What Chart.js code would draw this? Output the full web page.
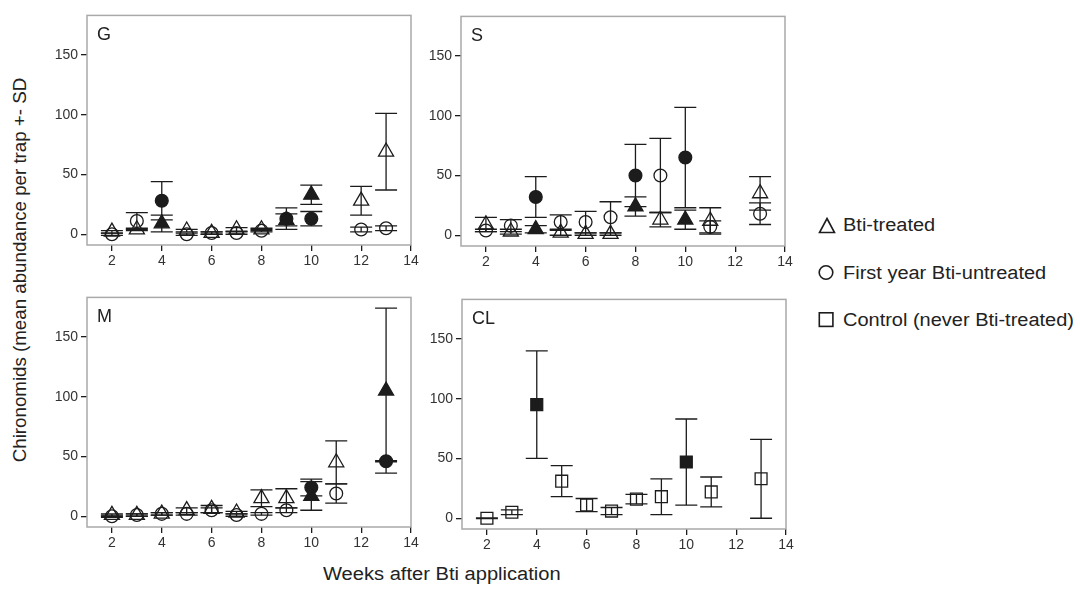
<!DOCTYPE html>
<html>
<head>
<meta charset="utf-8">
<script src="https://cdn.jsdelivr.net/npm/chart.js@4.4.1/dist/chart.umd.min.js"></script>
<style>
  body { margin: 0; background: #fff; width: 1080px; height: 590px; overflow: hidden; position: relative;
         font-family: "Liberation Sans", Arial, sans-serif; color: #222; }
  .panel { position: absolute; }
  .ytitle { position: absolute; left: 20px; top: 270px; font-size: 18px; line-height: 18px; white-space: nowrap;
            transform: translate(-50%, -50%) rotate(-90deg) scaleX(1.04); }
  .xtitle { position: absolute; left: 323px; top: 565px; font-size: 18px; line-height: 18px; white-space: nowrap;
            transform-origin: left center; transform: scaleX(1.117); }
  .sym { position: absolute; left: 818px; }
  .lab { position: absolute; left: 843px; font-size: 18px; line-height: 18px; white-space: nowrap;
         transform-origin: left center; transform: scaleX(1.11); }
</style>
</head>
<body>
<canvas id="chartG" class="panel" width="379" height="266" style="left:42px;top:4px"></canvas>
<canvas id="chartS" class="panel" width="379" height="266" style="left:416px;top:5px"></canvas>
<canvas id="chartM" class="panel" width="379" height="266" style="left:42px;top:286px"></canvas>
<canvas id="chartCL" class="panel" width="379" height="266" style="left:417px;top:288px"></canvas>

<div class="ytitle">Chironomids (mean abundance per trap +- SD</div>
<div class="xtitle">Weeks after Bti application</div>

<svg class="sym" style="top:217px" width="18" height="17"><polygon points="9,1.5 16.5,15.5 1.5,15.5" fill="none" stroke="#1c1c1c" stroke-width="1.6"/></svg>
<div class="lab" style="top:216px">Bti-treated</div>
<svg class="sym" style="top:264px" width="17" height="17"><circle cx="8" cy="8.5" r="6.8" fill="none" stroke="#1c1c1c" stroke-width="1.6"/></svg>
<div class="lab" style="top:264px">First year Bti-untreated</div>
<svg class="sym" style="top:311px" width="17" height="17"><rect x="1.3" y="1.8" width="13.6" height="13.6" fill="none" stroke="#1c1c1c" stroke-width="1.6"/></svg>
<div class="lab" style="top:311px">Control (never Bti-treated)</div>

<script>
// weeks sampled (11 is missing in G, 12 is missing elsewhere -> null)
const weeks = [2, 3, 4, 5, 6, 7, 8, 9, 10, 11, 12, 13];
const xTicks = [2, 4, 6, 8, 10, 12, 14];
const yTicks = [0, 50, 100, 150];

// G
const gTriMean   = [2, 4, 9, 3, 1, 4, 4, 12, 33, null, 28, 69];
const gTriSd     = [1, 1, 7, 1, 1, 1.5, 1, 5, 8, null, 12, 32];
const gTriFilled = [0, 0, 1, 0, 0, 0, 0, 1, 1, 0, 0, 0];
const gCirMean   = [0, 11, 28, 0, 1, 1, 3, 13, 13, null, 4, 5];
const gCirSd     = [1, 7, 16, 1, 1, 1, 1, 9, 6, null, 2, 2];
const gCirFilled = [0, 0, 1, 0, 0, 0, 0, 1, 1, 0, 0, 0];

// S
const sTriMean   = [9, 3, 5, 2, 1, 1, 24, 13, 13, 12, null, 35];
const sTriSd     = [6, 2, 3, 2, 1, 1, 8, 6, 8, 11, null, 14];
const sTriFilled = [0, 0, 1, 0, 0, 0, 1, 0, 1, 0, 0, 0];
const sCirMean   = [4, 8, 32, 11, 11, 15, 50, 50, 65, 7, null, 18];
const sCirSd     = [1, 5, 17, 6, 9, 13, 26, 31, 42, 5, null, 9];
const sCirFilled = [0, 0, 1, 0, 0, 0, 1, 0, 1, 0, 0, 0];

// M
const mTriMean   = [1, 1, 2, 5, 6, 3, 15, 15, 17, 45, null, 105];
const mTriSd     = [1, 1, 1, 2, 3, 1, 7, 8, 12, 18, null, 69];
const mTriFilled = [0, 0, 0, 0, 0, 0, 0, 0, 1, 0, 0, 1];
const mCirMean   = [0, 1, 2, 2, 5, 1, 2, 5, 24, 19, null, 46];
const mCirSd     = [1, 1, 1, 1, 2, 1, 1, 2, 7, 8, null, 0.5];
const mCirFilled = [0, 0, 0, 0, 0, 0, 0, 0, 1, 0, 0, 1];

// CL (control)
const clSqMean   = [0, 5, 95, 31, 11, 6, 16, 18, 47, 22, null, 33];
const clSqSd     = [0.3, 2, 45, 13, 5.5, 3, 4, 15, 36, 12.5, null, 33];
const clSqFilled = [0, 0, 1, 0, 0, 0, 0, 0, 1, 0, 0, 0];

const ink = '#1c1c1c';
const family = '"Liberation Sans", Arial, sans-serif';
const markerSize = { triangle: 8.7, circle: 6.4, rect: 8.4 };

function makeDataset(style, mean, sd, filled) {
  return {
    data: weeks.map((w, i) => ({ x: w, y: mean[i] })),
    sd: sd,
    pointStyle: style,
    pointRadius: markerSize[style],
    pointBorderWidth: 1.3,
    pointBorderColor: ink,
    pointBackgroundColor: filled.map(f => f ? ink : 'rgba(0,0,0,0)'),
    showLine: false
  };
}

// vertical error bars with caps, drawn under the markers
const errorBars = {
  id: 'errorBars',
  beforeDatasetsDraw(chart) {
    const ctx = chart.ctx, xs = chart.scales.x, ys = chart.scales.y;
    ctx.save();
    ctx.strokeStyle = ink;
    ctx.lineWidth = 1.3;
    chart.data.datasets.forEach(ds => {
      ds.data.forEach((p, i) => {
        if (p.y == null) return;
        const px = xs.getPixelForValue(p.x);
        const top = ys.getPixelForValue(p.y + ds.sd[i]);
        const bot = ys.getPixelForValue(p.y - ds.sd[i]);
        ctx.beginPath();
        ctx.moveTo(px, top); ctx.lineTo(px, bot);
        ctx.moveTo(px - 11, top); ctx.lineTo(px + 11, top);
        ctx.moveTo(px - 11, bot); ctx.lineTo(px + 11, bot);
        ctx.stroke();
      });
    });
    ctx.restore();
  }
};

// grey frame around the plot area + panel letter
const panelFrame = {
  id: 'panelFrame',
  afterDraw(chart, args, opts) {
    const { ctx, chartArea: a } = chart;
    ctx.save();
    ctx.strokeStyle = '#a9a9a9';
    ctx.lineWidth = 1.5;
    ctx.strokeRect(a.left, a.top, a.right - a.left, a.bottom - a.top);
    ctx.fillStyle = '#222';
    ctx.font = '18px ' + family;
    ctx.textBaseline = 'alphabetic';
    ctx.fillText(opts.text, a.left + 10, a.top + 25);
    ctx.restore();
  }
};

function makeChart(id, label, datasets) {
  return new Chart(document.getElementById(id), {
    type: 'scatter',
    data: { datasets: datasets },
    plugins: [errorBars, panelFrame],
    options: {
      responsive: false,
      animation: false,
      layout: { padding: { top: 4, right: 10, left: 0, bottom: 0 } },
      plugins: {
        legend: { display: false },
        tooltip: { enabled: false },
        panelFrame: { text: label }
      },
      scales: {
        x: {
          type: 'linear', min: 1, max: 14,
          afterBuildTicks: s => { s.ticks = xTicks.map(v => ({ value: v })); },
          afterFit: s => { s.height = 25; },
          grid: { drawOnChartArea: false, drawTicks: true, tickLength: 6, color: ink, lineWidth: 1.3 },
          border: { display: false },
          ticks: { autoSkip: false, maxRotation: 0, padding: 2, color: '#333', font: { size: 14, family: family } }
        },
        y: {
          type: 'linear', min: -9, max: 183,
          afterBuildTicks: s => { s.ticks = yTicks.map(v => ({ value: v })); },
          afterFit: s => { s.width = 45; },
          grid: { drawOnChartArea: false, drawTicks: true, tickLength: 6, color: ink, lineWidth: 1.3 },
          border: { display: false },
          ticks: { padding: 3, color: '#333', font: { size: 14, family: family } }
        }
      }
    }
  });
}

makeChart('chartG', 'G', [
  makeDataset('triangle', gTriMean, gTriSd, gTriFilled),
  makeDataset('circle', gCirMean, gCirSd, gCirFilled)
]);
makeChart('chartS', 'S', [
  makeDataset('triangle', sTriMean, sTriSd, sTriFilled),
  makeDataset('circle', sCirMean, sCirSd, sCirFilled)
]);
makeChart('chartM', 'M', [
  makeDataset('triangle', mTriMean, mTriSd, mTriFilled),
  makeDataset('circle', mCirMean, mCirSd, mCirFilled)
]);
makeChart('chartCL', 'CL', [
  makeDataset('rect', clSqMean, clSqSd, clSqFilled)
]);
</script>
</body>
</html>
